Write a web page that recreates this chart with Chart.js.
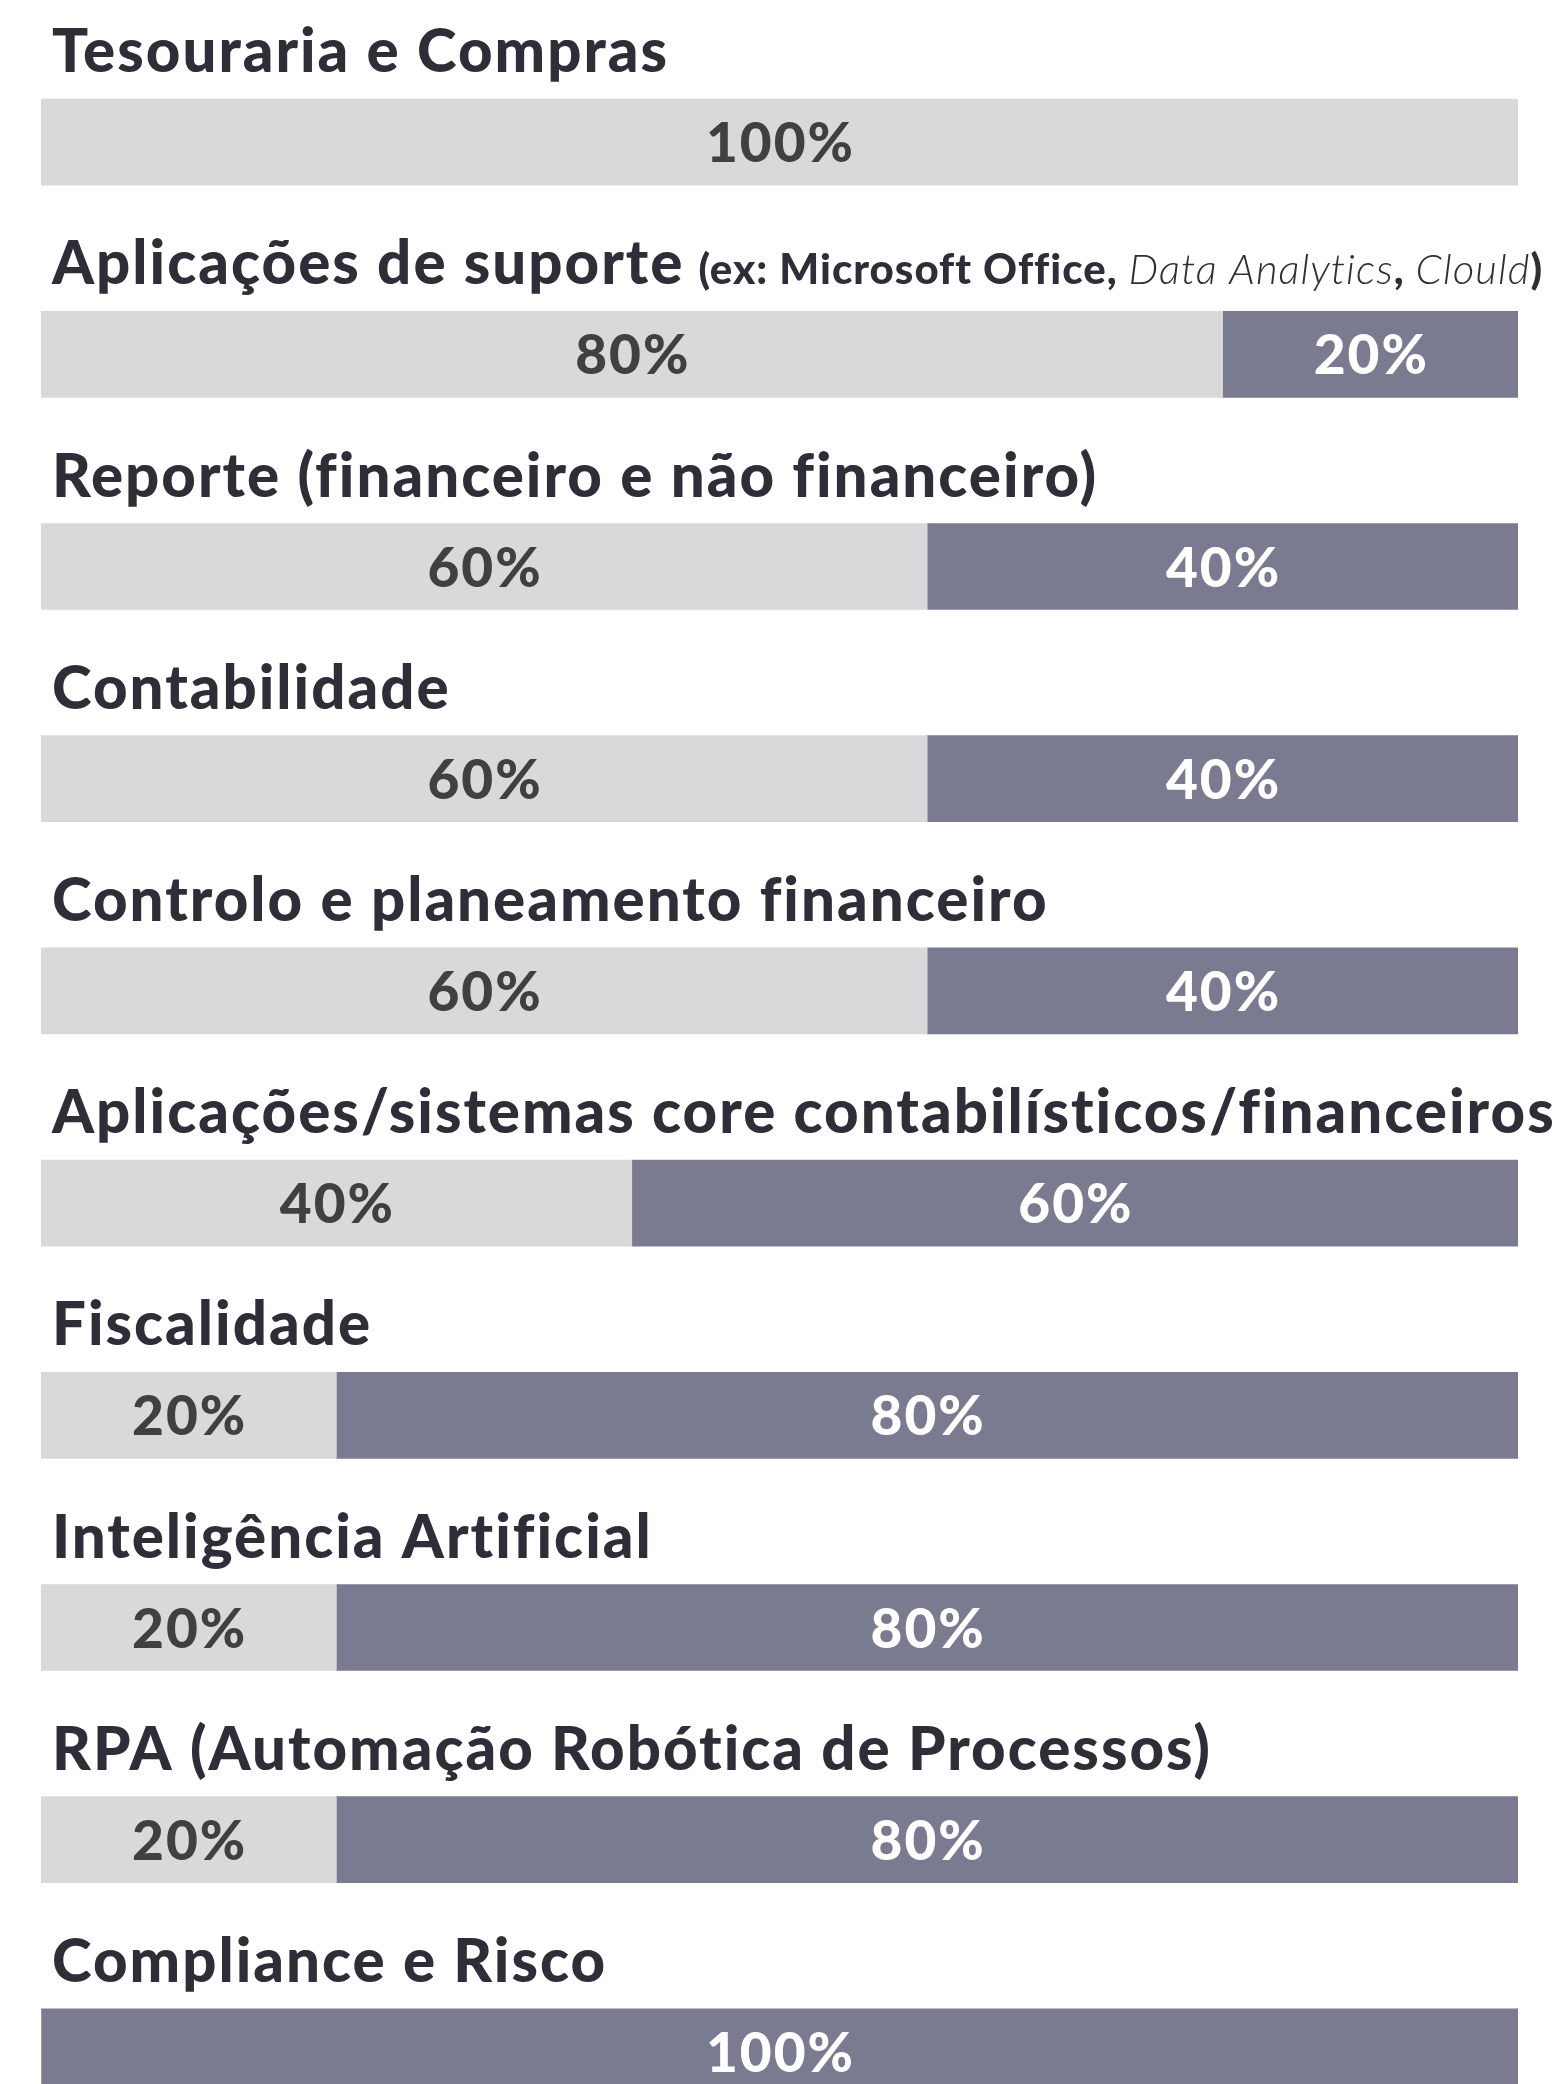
<!DOCTYPE html>
<html>
<head>
<meta charset="utf-8">
<script src="https://cdn.jsdelivr.net/npm/chart.js@4.4.1/dist/chart.umd.min.js"></script>
<style>
  html, body { margin: 0; padding: 0; background: #ffffff; overflow: hidden; }
  #bars { display: block; }
</style>
</head>
<body>
<canvas id="bars" width="1563" height="2180"></canvas>
<script>
var categories = [
    "Tesouraria e Compras",
    "Aplicações de suporte",
    "Reporte (financeiro e não financeiro)",
    "Contabilidade",
    "Controlo e planeamento financeiro",
    "Aplicações/sistemas core contabilísticos/financeiros",
    "Fiscalidade",
    "Inteligência Artificial",
    "RPA (Automação Robótica de Processos)",
    "Compliance e Risco"
];
// small note after the 2nd category, [text, style]
var supportNote = [
    ["(ex: Microsoft Office, ", "bold"],
    ["Data Analytics", "italic"],
    [", ", "bold"],
    ["Clould", "italic"],
    [")", "bold"]
];
var lightValues = [100, 80, 60, 60, 60, 40, 20, 20, 20, 0];
var darkValues = [0, 20, 40, 40, 40, 60, 80, 80, 80, 100];

var lightColor = '#d9d9d9';
var darkColor = '#7a7a90';
var titleColor = '#2e2e38';

var titlePlugin = {
    id: 'rowTitles',
    afterDatasetsDraw: function(chart) {
        var ctx = chart.ctx;
        var meta = chart.getDatasetMeta(0);
        ctx.save();
        ctx.fillStyle = titleColor;
        ctx.textAlign = 'left';
        ctx.textBaseline = 'alphabetic';
        meta.data.forEach(function(bar, i) {
            var top = bar.y - bar.height / 2;
            var y = top - 27;
            var x = 52;
            ctx.font = '900 60px Lato';
            ctx.letterSpacing = '2px';
            ctx.fillText(categories[i], x, y);
            if (i === 1) {
                x += ctx.measureText(categories[i]).width + 14;
                supportNote.forEach(function(seg) {
                    ctx.font = seg[1] === 'italic' ? 'italic 300 42px Lato' : '900 42px Lato';
                    ctx.letterSpacing = '1px';
                    ctx.fillText(seg[0], x, y);
                    x += ctx.measureText(seg[0]).width;
                });
            }
        });
        ctx.restore();
    }
};

var valuePlugin = {
    id: 'barValues',
    afterDatasetsDraw: function(chart) {
        var ctx = chart.ctx;
        ctx.save();
        ctx.font = '900 55px Lato';
        ctx.letterSpacing = '2px';
        ctx.textAlign = 'center';
        ctx.textBaseline = 'alphabetic';
        chart.data.datasets.forEach(function(ds, d) {
            var meta = chart.getDatasetMeta(d);
            meta.data.forEach(function(bar, i) {
                var v = ds.data[i];
                if (!v) return;
                ctx.fillStyle = d === 0 ? '#404040' : '#ffffff';
                ctx.fillText(v + '%', (bar.x + bar.base) / 2 + 1, bar.y + 20);
            });
        });
        ctx.restore();
    }
};

new Chart(document.getElementById('bars'), {
    type: 'bar',
    data: {
        labels: categories,
        datasets: [{
            label: 'light',
            data: lightValues,
            backgroundColor: lightColor,
            borderWidth: 0,
            barThickness: 86
        }, {
            label: 'dark',
            data: darkValues,
            backgroundColor: darkColor,
            borderWidth: 0,
            barThickness: 86
        }]
    },
    options: {
        indexAxis: 'y',
        responsive: false,
        devicePixelRatio: 1,
        animation: false,
        layout: {
            padding: { left: 41, right: 45, top: 36, bottom: 22 }
        },
        plugins: {
            legend: { display: false },
            tooltip: { enabled: false }
        },
        scales: {
            x: { stacked: true, min: 0, max: 100, display: false },
            y: { stacked: true, display: false }
        }
    },
    plugins: [titlePlugin, valuePlugin]
});
</script>
</body>
</html>
